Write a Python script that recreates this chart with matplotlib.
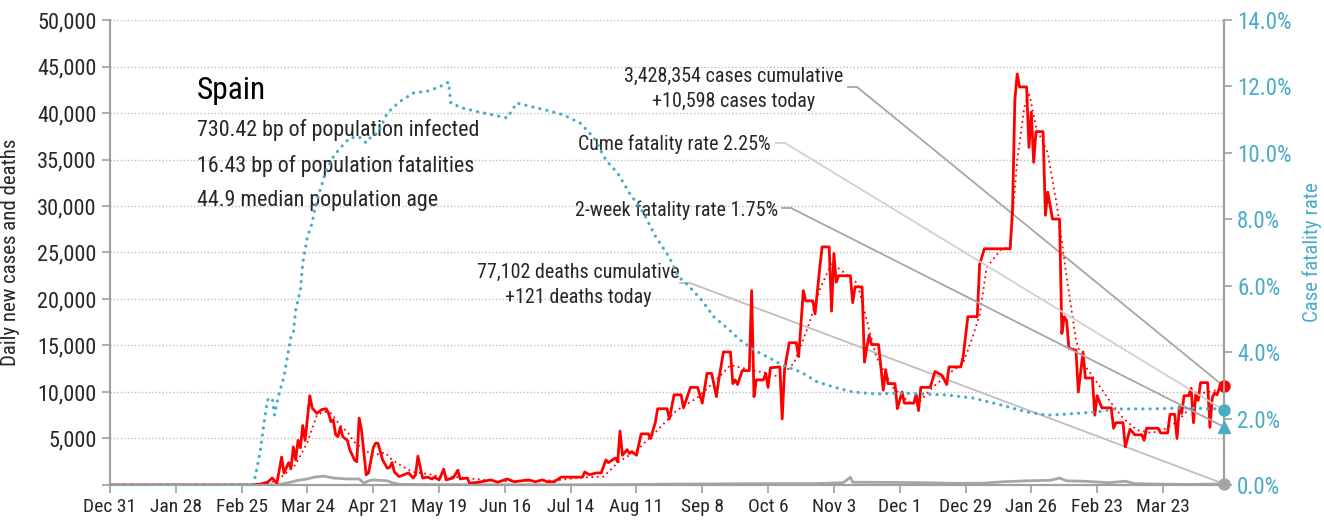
import matplotlib
matplotlib.use('Agg')
import matplotlib.pyplot as plt
import matplotlib.ticker as mticker
from matplotlib import font_manager
import pandas as pd

START = pd.Timestamp('2019-12-31')

# daily new cases (day offset from Dec 31 2019, cases)
case_days = [0, 60, 64, 67, 69, 71, 73, 74, 76, 77, 78, 79, 80, 81, 82, 83, 85, 86, 88, 90,
             92, 93, 94, 95, 96, 97, 98, 99, 101, 102, 104, 105, 106, 107, 109, 110, 112, 113, 114, 116,
             118, 119, 120, 121, 123, 125, 127, 129, 130, 131, 133, 135, 137, 138, 140, 142, 143, 146, 148, 149,
             152, 153, 157, 162, 165, 169, 172, 178, 181, 184, 186, 189, 192, 201, 202, 204, 207, 209, 211, 212,
             215, 216, 217, 218, 220, 221, 222, 224, 226, 229, 230, 232, 233, 237, 238, 240, 243, 244, 247, 250,
             252, 254, 256, 258, 259, 261, 264, 265, 266, 267, 269, 272, 273, 274, 275, 278, 279, 280, 281, 285,
             286, 287, 289, 292, 293, 295, 296, 299, 300, 302, 303, 306, 307, 308, 309, 310, 315, 316, 317, 320,
             321, 322, 323, 324, 327, 329, 330, 331, 334, 335, 337, 338, 342, 343, 344, 345, 349, 351, 354, 356,
             357, 362, 363, 365, 369, 370, 372, 383, 384, 385, 386, 387, 390, 391, 392, 393, 394, 397, 398, 399,
             401, 404, 405, 406, 407, 408, 411, 412, 414, 415, 418, 419, 420, 422, 426, 427, 428, 431, 432, 434,
             436, 439, 440, 441, 446, 447, 450, 451, 453, 454, 455, 456, 457, 459, 460, 461, 462, 463, 464, 467,
             468, 469, 470, 471, 472, 473, 474]
cases = [0, 0, 100, 300, 750, 200, 3000, 1300, 2400, 1800, 4100, 2700, 4800, 4000, 6400, 4800, 9600, 8300, 7700, 8100,
         8200, 7700, 6800, 7000, 5400, 5200, 6200, 5200, 4800, 3800, 2700, 2500, 7200, 5900, 1100, 1300, 4000, 4500, 4500, 2700,
         1800, 1900, 2400, 1400, 900, 1100, 1300, 750, 1100, 3100, 750, 850, 650, 850, 550, 1700, 550, 750, 1600, 650,
         750, 200, 300, 550, 300, 650, 350, 550, 350, 550, 350, 350, 850, 850, 1400, 1100, 1300, 1300, 2700, 2400,
         2900, 2500, 5800, 3200, 3800, 3400, 3600, 3200, 5500, 5500, 5000, 6700, 8200, 8200, 7100, 9700, 9700, 8300, 10500, 10500,
         8800, 12000, 12000, 9500, 11300, 14300, 14300, 10900, 11300, 10800, 12300, 12300, 20900, 9500, 11300, 11300, 12000, 10500, 12600, 12700,
         7100, 12400, 15300, 15300, 13800, 20900, 19800, 19800, 18400, 23400, 25600, 25600, 18700, 24900, 21800, 22500, 22500, 19600, 21300, 21300,
         13200, 14800, 16100, 15100, 15100, 10200, 12400, 10900, 10900, 8200, 10000, 8800, 8800, 9700, 8000, 10500, 10500, 12200, 11800, 10800,
         12700, 12700, 13800, 18100, 18100, 23700, 25400, 25400, 29600, 41400, 44200, 42800, 42800, 36300, 40100, 34700, 38000, 38000, 29000, 31500,
         28600, 28600, 16300, 18100, 17700, 14700, 14500, 10000, 14300, 11500, 11500, 7500, 9600, 8300, 8300, 6100, 6700, 6700, 4100, 6000,
         5400, 5400, 4800, 6100, 6100, 5600, 5600, 7600, 7600, 5000, 8400, 7700, 9600, 9600, 10400, 6700, 9900, 9100, 11000, 11000,
         6200, 9400, 9900, 9700, 10400, 10200, 10598]

# 7-day average of new cases
avg_days = [0, 62, 68, 72, 76, 79, 84, 88, 91, 94, 98, 101, 104, 108, 112, 117, 120, 125, 129, 135,
            140, 148, 155, 165, 180, 190, 200, 210, 216, 224, 233, 241, 250, 258, 264, 272, 280, 285, 291, 297,
            302, 307, 312, 318, 322, 326, 333, 340, 345, 350, 357, 363, 367, 370, 373, 379, 383, 386, 389, 391,
            394, 399, 403, 407, 411, 414, 420, 426, 431, 437, 443, 448, 454, 460, 465, 471, 474]
avg_cases = [0, 0, 200, 700, 1500, 2200, 4600, 7500, 7900, 7700, 6400, 5700, 4600, 3800, 3200, 3500, 2700, 1900, 1400, 1200,
             900, 850, 650, 400, 450, 500, 800, 900, 2400, 3700, 5900, 8000, 9400, 11300, 12900, 12400, 12000, 11600, 13100, 17000,
             21000, 23900, 22900, 21700, 17700, 13800, 10500, 8900, 9100, 10500, 12000, 13100, 15900, 18300, 23400, 25300, 25600, 34900, 40600, 42200,
             38500, 35700, 29900, 22400, 15600, 13100, 11000, 8800, 7200, 5900, 5600, 5900, 6800, 8400, 9900, 10200, 10300]

# daily deaths
death_days = [0, 68, 72, 76, 80, 84, 87, 91, 95, 101, 106, 108, 110, 112, 118, 120, 123, 130, 160, 200,
              220, 240, 260, 280, 300, 312, 315, 316, 330, 345, 360, 372, 380, 390, 400, 404, 407, 415, 425, 432,
              436, 445, 460, 474]
deaths = [0, 0, 50, 250, 500, 650, 850, 950, 750, 650, 650, 200, 450, 550, 450, 250, 80, 50, 20, 15,
          50, 100, 120, 150, 150, 250, 830, 300, 280, 250, 180, 200, 350, 450, 500, 750, 450, 400, 250, 400,
          150, 100, 60, 121]

# cumulative case fatality rate, percent
cfr_days = [0, 61, 62.5, 64, 65.5, 67, 69, 70, 71, 72, 74, 75, 77, 78, 79, 81, 82, 83, 84, 86,
            87, 89, 92, 95, 98, 102, 106, 109, 111, 114, 118, 123, 129, 135, 140, 144, 145, 150, 157, 165,
            169, 173, 180, 187, 193, 200, 206, 211, 216, 221, 227, 232, 238, 242, 245, 251, 257, 262, 268, 274,
            280, 286, 294, 301, 308, 316, 326, 336, 345, 356, 367, 379, 390, 399, 408, 420, 428, 443, 457, 471,
            474]
cfr = [0, 0, 0.5, 1.05, 1.87, 2.56, 2.62, 2.11, 2.47, 2.77, 3.25, 3.67, 4.46, 4.58, 5.27, 5.87, 6.68, 7.08, 7.47, 7.89,
       8.28, 8.79, 9.48, 9.88, 10.15, 10.45, 10.48, 10.3, 10.48, 10.6, 11.2, 11.53, 11.8, 11.86, 11.98, 12.13, 11.5, 11.35, 11.23, 11.11,
       11.05, 11.5, 11.38, 11.26, 11.14, 10.9, 10.45, 9.78, 9.39, 8.79, 8.19, 7.5, 6.85, 6.26, 6.08, 5.63, 5.06, 4.76, 4.37, 4.06,
       3.85, 3.61, 3.40, 3.10, 2.95, 2.80, 2.74, 2.77, 2.74, 2.71, 2.62, 2.41, 2.20, 2.10, 2.14, 2.20, 2.29, 2.29, 2.32, 2.29,
       2.25]

country = 'Spain'
info_lines = ['730.42 bp of population infected',
              '16.43 bp of population fatalities',
              '44.9 median population age']
total_cases = 3428354
today_cases = 10598
total_deaths = 77102
today_deaths = 121
cume_rate = 2.25
two_week_rate = 1.75

RED = '#FF0000'
BLUE = '#4BACC6'
GRAY = '#A6A6A6'
AXIS = '#A0A0A0'
INK = '#262626'


# prefer a narrow sans face; otherwise shrink the regular one
def pick_font():
    fonts = font_manager.fontManager.ttflist
    names = {f.name for f in fonts}
    for name in ['Liberation Sans Narrow', 'Roboto Condensed', 'Open Sans Condensed',
                 'Noto Sans Condensed', 'DejaVu Sans Condensed', 'Arial Narrow']:
        if name in names:
            return name, 'normal', 1.0
    for name in ['DejaVu Sans', 'Noto Sans', 'Roboto', 'Open Sans']:
        for f in fonts:
            if f.name == name and str(f.stretch) in ('condensed', 'semi-condensed', 'extra-condensed'):
                return name, 'condensed', 0.9
    return 'DejaVu Sans', 'normal', 0.78


family, stretch, k = pick_font()
plt.rcParams['font.family'] = [family, 'DejaVu Sans']
plt.rcParams['font.stretch'] = stretch


def to_dates(days):
    return START + pd.to_timedelta(days, unit='D')


fig = plt.figure(figsize=(13.24, 5.25), dpi=100)
ax = fig.add_axes([0.0831, 0.0762, 0.8414, 0.8857])
ax2 = ax.twinx()

last = to_dates([case_days[-1]])[0]

ax.plot(to_dates(death_days), deaths, color=GRAY, lw=2.0, zorder=3)
ax.plot(to_dates(avg_days), avg_cases, color=RED, lw=1.3, ls=(0, (1, 2)), zorder=4)
ax.plot(to_dates(case_days), cases, color=RED, lw=2.0, zorder=5)
ax2.plot(to_dates(cfr_days), [v / 100 for v in cfr], color=BLUE, lw=2.3,
         ls=(0, (0.05, 2.2)), dash_capstyle='round', zorder=4)

# end-of-series markers
ax.plot([last], [cases[-1]], 'o', color=RED, ms=8, clip_on=False, zorder=6)
ax.plot([last], [deaths[-1]], 'o', color=GRAY, ms=8, clip_on=False, zorder=6)
ax2.plot([last], [cume_rate / 100], 'o', color=BLUE, ms=8, clip_on=False, zorder=6)
ax2.plot([last], [two_week_rate / 100], '^', color=BLUE, ms=9, clip_on=False, zorder=6)

ax.set_xlim(START, last)
ax.set_ylim(0, 50000)
ax2.set_ylim(0, 0.14)

tick_dates = pd.date_range(START, last, freq='28D')
ax.set_xticks(tick_dates)
ax.set_xticklabels([f'{d:%b} {d.day}' for d in tick_dates])
ax.set_yticks(range(0, 50001, 5000))
ax.yaxis.set_major_formatter(mticker.FuncFormatter(lambda v, p: '' if v == 0 else f'{v:,.0f}'))
ax2.set_yticks([i / 100 for i in range(0, 15, 2)])
ax2.yaxis.set_major_formatter(mticker.FuncFormatter(lambda v, p: f'{v * 100:.1f}%'))

ax.grid(axis='y', color='#BFBFBF', ls=(0, (1, 1.5)), lw=1.0)
ax.set_axisbelow(True)

for a in (ax, ax2):
    a.spines['top'].set_visible(False)
    for s in ('left', 'right', 'bottom'):
        a.spines[s].set_color(AXIS)
        a.spines[s].set_linewidth(1.5)
ax.tick_params(axis='x', colors=AXIS, labelcolor=INK, labelsize=14 * k, length=6, width=1.2)
ax.tick_params(axis='y', colors=AXIS, labelcolor=INK, labelsize=16 * k, length=6, width=1.2)
ax2.tick_params(axis='y', colors=AXIS, labelcolor=BLUE, labelsize=16.5 * k, length=6, width=1.2)

ax.set_ylabel('Daily new cases and deaths', fontsize=15 * k, color=INK)
ax.yaxis.set_label_coords(-0.081, 0.5)
ax2.set_ylabel('Case fatality rate', fontsize=15 * k, color=BLUE, rotation=90)
ax2.yaxis.set_label_coords(1.070, 0.5)

# title block
ax.text(0.078, 0.848, country, transform=ax.transAxes, fontsize=22.7 * k, color='black', va='center')
for i, line in enumerate(info_lines):
    ax.text(0.078, 0.763 - i * 0.076, line, transform=ax.transAxes, fontsize=15.8 * k,
            color=INK, va='center')


def leader(text, tx, ty, ha, x0, x1, ly, target_ax, target_y, color):
    ax.text(tx, ty, text, transform=ax.transAxes, fontsize=14.4 * k, color=INK,
            ha=ha, va='center', linespacing=1.35, zorder=7)
    ax.plot([x0, x1], [ly, ly], transform=ax.transAxes, color=color, lw=1.3, clip_on=False)
    target_ax.annotate('', xy=(last, target_y), xycoords='data',
                       xytext=(x1, ly), textcoords=ax.transAxes,
                       arrowprops=dict(arrowstyle='-', color=color, lw=1.3,
                                       shrinkA=0, shrinkB=0))


def fx(px):
    return (px - 110) / 1114


def fy(py):
    return (485 - py) / 465


leader(f'{total_cases:,} cases cumulative\n+{today_cases:,} cases today',
       fx(734), fy(89), 'center', fx(848), fx(857), fy(87), ax, cases[-1], GRAY)
leader(f'Cume fatality rate {cume_rate:.2f}%',
       fx(771), fy(144), 'right', fx(776), fx(785), fy(143), ax2, cume_rate / 100, '#D0D0D0')
leader(f'2-week fatality rate {two_week_rate:.2f}%',
       fx(778), fy(210), 'right', fx(782), fx(791), fy(208), ax2, two_week_rate / 100, GRAY)
leader(f'{total_deaths:,} deaths cumulative\n+{today_deaths} deaths today',
       fx(578), fy(285), 'center', fx(680), fx(690), fy(283), ax, deaths[-1], '#BFBFBF')

fig.savefig('out.png', dpi=100)
